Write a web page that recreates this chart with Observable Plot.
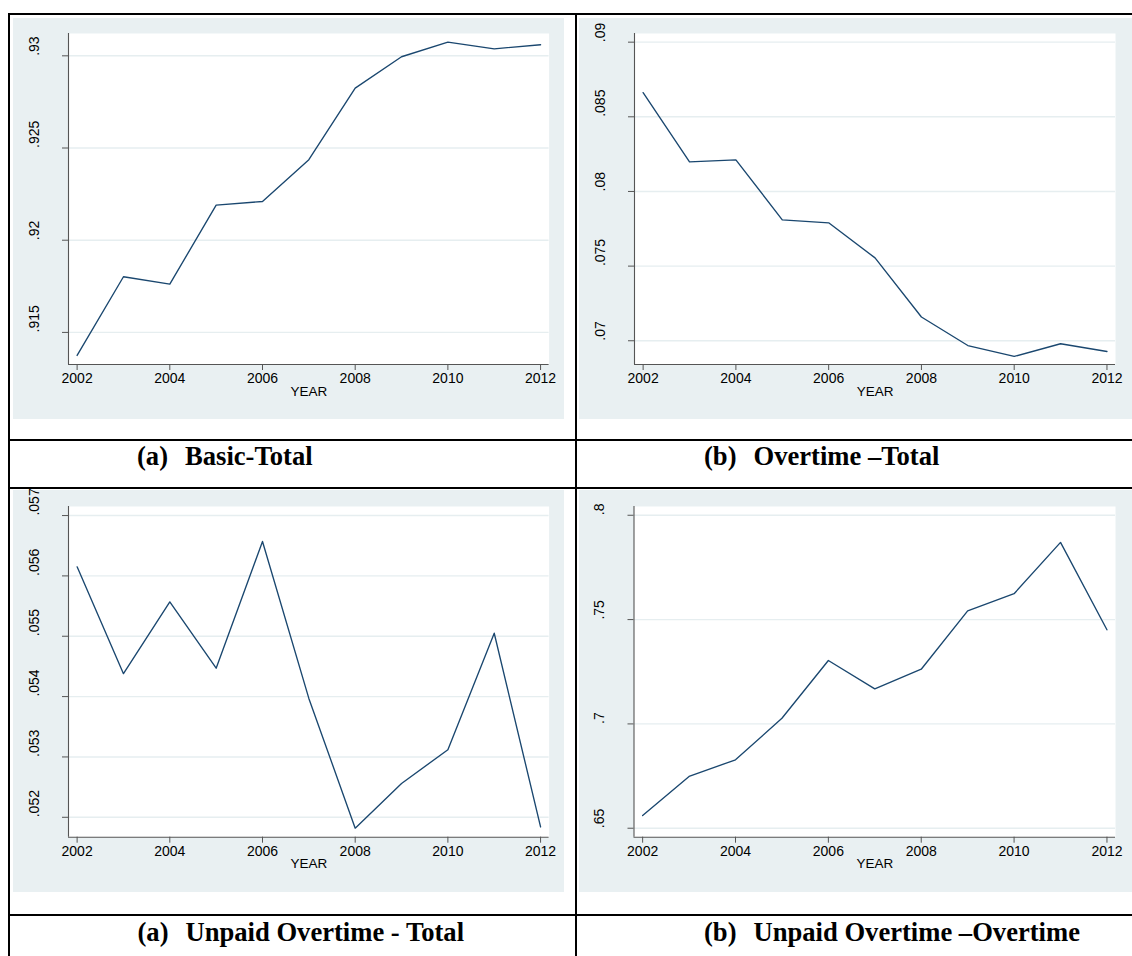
<!DOCTYPE html>
<html>
<head>
<meta charset="utf-8">
<script src="https://cdn.jsdelivr.net/npm/d3@7"></script>
<script src="https://cdn.jsdelivr.net/npm/@observablehq/plot@0.6"></script>
<style>
  body { margin: 0; background: #fff; }
  #page { position: relative; width: 1132px; height: 956px; overflow: hidden; background: #fff; }
  .rule { position: absolute; background: #000; }
  .panel { position: absolute; }
  .panel svg { display: block; max-width: none !important; }
  .cap { position: absolute; font-family: "Liberation Serif", "Times New Roman", serif; font-weight: bold;
         font-size: 26.6px; line-height: 1; white-space: nowrap; color: #000; }
  .cap span + span { margin-left: 17px; }
</style>
</head>
<body>
<div id="page"></div>
<script>
// ---------- data ----------
const years = [2002, 2003, 2004, 2005, 2006, 2007, 2008, 2009, 2010, 2011, 2012];
const basicTotal     = [0.91375, 0.91802, 0.91762, 0.92190, 0.92210, 0.92437, 0.92825, 0.92995, 0.93074, 0.93038, 0.93060];
const overtimeTotal  = [0.08662, 0.08198, 0.08212, 0.07810, 0.07790, 0.07555, 0.07159, 0.06968, 0.06895, 0.06980, 0.06928];
const unpaidTotal    = [0.05615, 0.05438, 0.05557, 0.05447, 0.05657, 0.05397, 0.05182, 0.05256, 0.05312, 0.05505, 0.05184];
const unpaidOvertime = [0.6561, 0.6748, 0.6828, 0.7027, 0.7304, 0.7168, 0.7262, 0.7542, 0.7624, 0.7870, 0.7451];

const xTicks = [2002, 2004, 2006, 2008, 2010, 2012];
const xTitle = "YEAR";

const basicTicks = [0.915, 0.92, 0.925, 0.93];
const basicTickLabels = [".915", ".92", ".925", ".93"];
const overtimeTicks = [0.07, 0.075, 0.08, 0.085, 0.09];
const overtimeTickLabels = [".07", ".075", ".08", ".085", ".09"];
const unpaidTicks = [0.052, 0.053, 0.054, 0.055, 0.056, 0.057];
const unpaidTickLabels = [".052", ".053", ".054", ".055", ".056", ".057"];
const unpaidOTTicks = [0.65, 0.7, 0.75, 0.8];
const unpaidOTTickLabels = [".65", ".7", ".75", ".8"];

const captionTags = ["(a)", "(b)", "(a)", "(b)"];
const captionTexts = ["Basic-Total", "Overtime \u2013Total", "Unpaid Overtime - Total", "Unpaid Overtime \u2013Overtime"];

// ---------- styles ----------
const BG = "#e9f0f2";
const GRID = "#e6eef0";
const AXIS = "#555";
const LINE = "#1a476f";
const TEXT = "#000";
const xDomain = [2001.814, 2012.184];

const page = document.getElementById("page");

function addRule(x, y, w, h) {
  const d = document.createElement("div");
  d.className = "rule";
  Object.assign(d.style, {left: x + "px", top: y + "px", width: w + "px", height: h + "px"});
  page.appendChild(d);
}

function makePanel(cfg) {
  const rows = years.map((yr, i) => ({year: yr, value: cfg.values[i]}));
  const chart = Plot.plot({
    width: cfg.width,
    height: cfg.height,
    marginLeft: cfg.ml,
    marginRight: cfg.mr,
    marginTop: cfg.mt,
    marginBottom: cfg.mb,
    x: {type: "linear", domain: xDomain, label: null},
    y: {type: "linear", domain: cfg.yDomain, label: null},
    style: {background: BG, fontFamily: "'Liberation Sans', Arial, sans-serif", fontSize: "14px", color: TEXT, overflow: "visible"},
    marks: [
      Plot.frame({fill: "#fff", stroke: "none"}),
      Plot.gridY(cfg.ticks, {stroke: GRID, strokeOpacity: 1, strokeWidth: 1.4}),
      Plot.ruleX([xDomain[0]], {stroke: AXIS, strokeWidth: 1.1}),
      Plot.ruleY([cfg.yDomain[0]], {stroke: AXIS, strokeWidth: 1.1}),
      Plot.axisX(xTicks, {tickSize: 6, tickPadding: 3, tickFormat: d => String(d), stroke: AXIS, fill: TEXT, fontSize: 14}),
      Plot.axisY(cfg.ticks, {tickSize: 6, tickFormat: () => "", stroke: AXIS}),
      Plot.text(cfg.ticks, {y: d => d, text: (d, i) => cfg.labels[i], frameAnchor: "left", dx: -34, rotate: -90, fill: TEXT, fontSize: 14}),
      Plot.text([xTitle], {text: d => d, frameAnchor: "bottom", dy: 31, fill: TEXT, fontSize: 13.5}),
      Plot.line(rows, {x: "year", y: "value", stroke: LINE, strokeWidth: 1.35})
    ]
  });
  const wrap = document.createElement("div");
  wrap.className = "panel";
  wrap.style.left = cfg.left + "px";
  wrap.style.top = cfg.top + "px";
  wrap.style.width = cfg.width + "px";
  wrap.style.height = cfg.height + "px";
  wrap.appendChild(chart);
  page.appendChild(wrap);
}

function addCaption(i, x, y) {
  const d = document.createElement("div");
  d.className = "cap";
  d.style.left = x + "px";
  d.style.top = y + "px";
  const a = document.createElement("span"); a.textContent = captionTags[i];
  const b = document.createElement("span"); b.textContent = captionTexts[i];
  d.appendChild(a); d.appendChild(b);
  page.appendChild(d);
}

// panels
makePanel({left: 13, top: 18, width: 551, height: 401, ml: 55, mr: 15.4, mt: 15, mb: 55,
  values: basicTotal, yDomain: [0.91326, 0.93121], ticks: basicTicks, labels: basicTickLabels});
makePanel({left: 579, top: 18, width: 553, height: 401, ml: 55, mr: 17, mt: 15, mb: 55,
  values: overtimeTotal, yDomain: [0.06841, 0.09058], ticks: overtimeTicks, labels: overtimeTickLabels});
makePanel({left: 13, top: 490, width: 551, height: 402, ml: 55, mr: 15.4, mt: 16, mb: 55.3,
  values: unpaidTotal, yDomain: [0.05167, 0.05715], ticks: unpaidTicks, labels: unpaidTickLabels});
makePanel({left: 579, top: 490, width: 553, height: 402, ml: 54.5, mr: 17, mt: 16, mb: 55.3,
  values: unpaidOvertime, yDomain: [0.6457, 0.8042], ticks: unpaidOTTicks, labels: unpaidOTTickLabels});

// table lines
addRule(8, 13, 2, 943);
addRule(8, 13, 1124, 2);
addRule(575, 13, 2, 943);
addRule(8, 439, 1124, 2);
addRule(8, 487, 1124, 2);
addRule(8, 914, 1124, 2);

// captions
addCaption(0, 137, 442.8);
addCaption(1, 704, 442.8);
addCaption(2, 137.5, 918.8);
addCaption(3, 704, 918.8);
</script>
</body>
</html>
